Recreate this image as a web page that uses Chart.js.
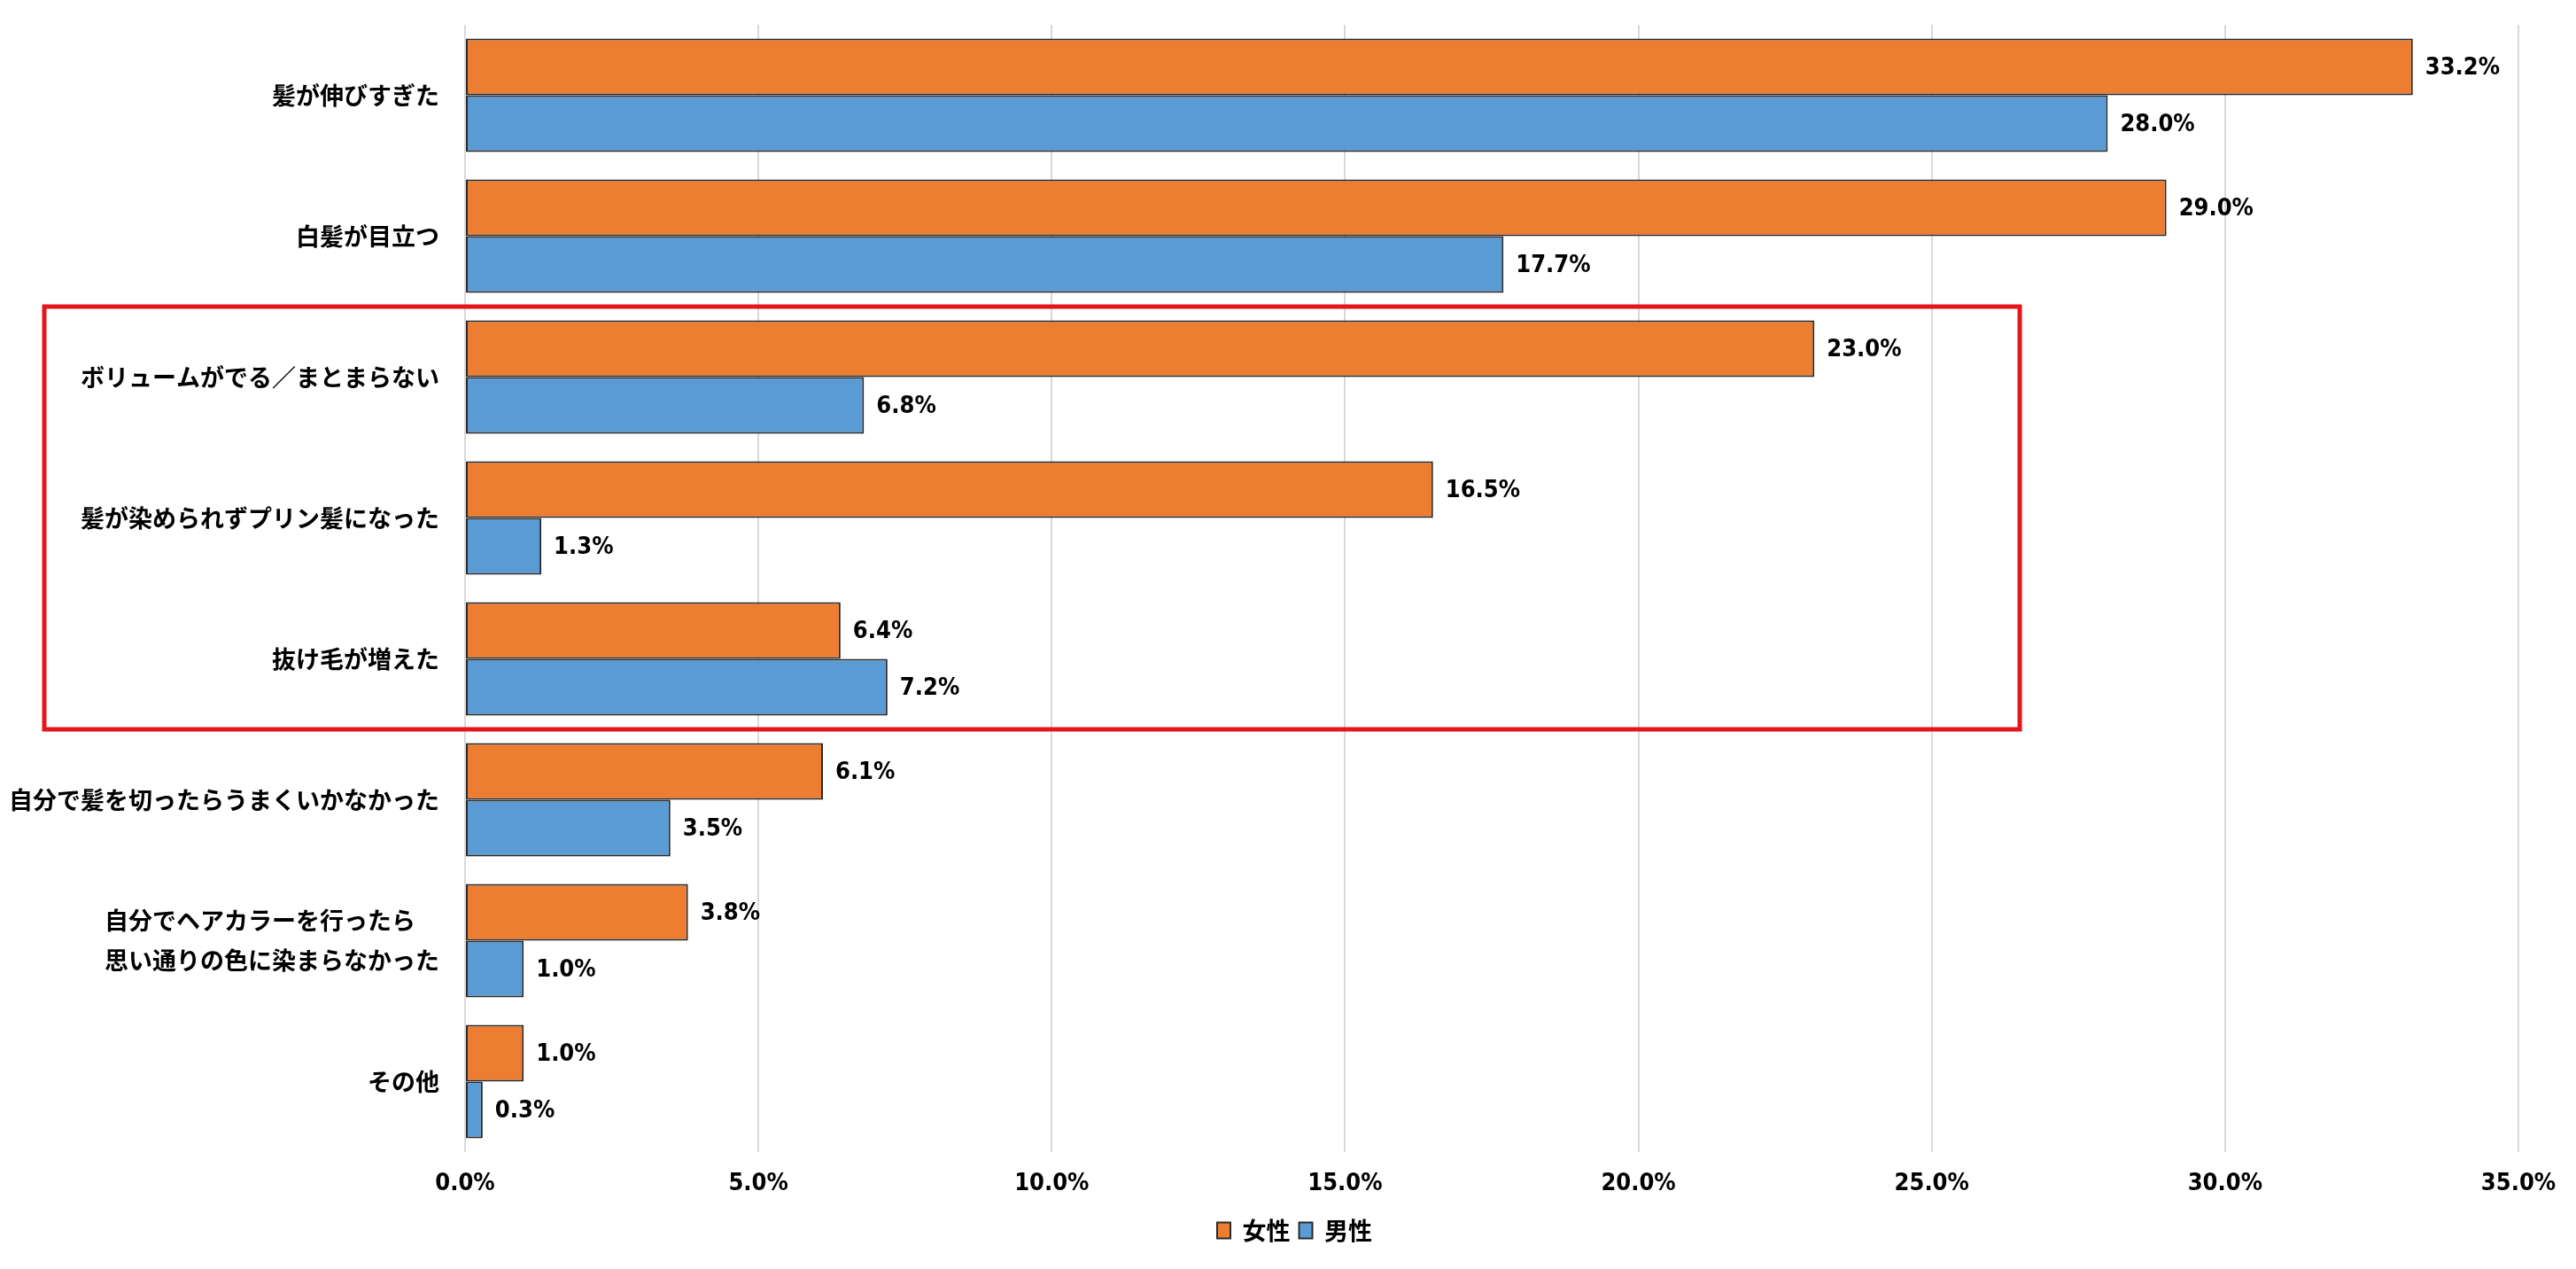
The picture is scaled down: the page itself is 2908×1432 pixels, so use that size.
<!DOCTYPE html>
<html lang="ja">
<head>
<meta charset="utf-8">
<title>髪の悩み 女性・男性</title>
<script src="https://cdn.jsdelivr.net/npm/chart.js@4.4.1/dist/chart.umd.min.js"></script>
<style>
  html, body { margin: 0; padding: 0; background: #fff; }
  #wrap { width: 2908px; height: 1432px; position: relative; }
</style>
</head>
<body>
<div id="wrap"><canvas id="chart" width="2908" height="1432"></canvas></div>
<script>
// ---- data ----
const CATEGORIES = [
  "髪が伸びすぎた",
  "白髪が目立つ",
  "ボリュームがでる／まとまらない",
  "髪が染められずプリン髪になった",
  "抜け毛が増えた",
  "自分で髪を切ったらうまくいかなかった",
  ["自分でヘアカラーを行ったら　", "思い通りの色に染まらなかった"],
  "その他",
];
const SERIES_NAMES = ["女性", "男性"];
const FEMALE = [33.2, 29.0, 23.0, 16.5, 6.4, 6.1, 3.8, 1.0];
const MALE = [28.0, 17.7, 6.8, 1.3, 7.2, 3.5, 1.0, 0.3];
const X_TICKS = [0, 5, 10, 15, 20, 25, 30, 35];

// red box around categories 2..4 (index), out to ~26.5%
const BOX_FROM = 2, BOX_TO = 4, BOX_X = 26.5;
const LEGEND_SHIFT = 40; // legend sits a bit right of centre in the original

const LATIN = "'Liberation Sans Narrow', 'DejaVu Sans Condensed', 'Noto Sans CJK JP', sans-serif";
const CJK = "'Noto Sans CJK JP', sans-serif";

const barLabels = {
  id: "barLabels",
  afterDatasetsDraw(chart) {
    const ctx = chart.ctx;
    ctx.save();
    ctx.font = "bold 27px " + LATIN;
    ctx.fillStyle = "#000";
    ctx.textAlign = "left";
    ctx.textBaseline = "middle";
    chart.data.datasets.forEach((ds, di) => {
      chart.getDatasetMeta(di).data.forEach((bar, i) => {
        ctx.fillText(ds.data[i].toFixed(1) + "%", bar.x + 14, bar.y + 1);
      });
    });
    ctx.restore();
  },
};

const redBox = {
  id: "redBox",
  afterLayout(chart) {
    chart.legend.left += LEGEND_SHIFT;
    chart.legend.right += LEGEND_SHIFT;
  },
  afterDraw(chart) {
    const y = chart.scales.y, x = chart.scales.x;
    const band = y.getPixelForValue(1) - y.getPixelForValue(0);
    const top = y.getPixelForValue(BOX_FROM) - band / 2;
    const bottom = y.getPixelForValue(BOX_TO) + band / 2;
    const right = x.getPixelForValue(BOX_X);
    const ctx = chart.ctx;
    ctx.save();
    ctx.strokeStyle = "#e5161b";
    ctx.lineWidth = 5;
    ctx.strokeRect(50, top, right - 50, bottom - top);
    ctx.restore();
  },
};

new Chart(document.getElementById("chart"), {
  type: "bar",
  data: {
    labels: CATEGORIES,
    datasets: [
      { label: SERIES_NAMES[0], data: FEMALE, backgroundColor: "#ed7d31", borderColor: "#2a2a2a", borderWidth: 2, borderSkipped: false },
      { label: SERIES_NAMES[1], data: MALE, backgroundColor: "#5b9bd5", borderColor: "#2a2a2a", borderWidth: 2, borderSkipped: false },
    ],
  },
  options: {
    indexAxis: "y",
    responsive: false,
    devicePixelRatio: 1,
    animation: false,
    layout: { padding: { top: 28, right: 65, bottom: 20, left: 0 } },
    datasets: { bar: { barPercentage: 1, categoryPercentage: 0.805 } },
    scales: {
      x: {
        min: 0, max: 35,
        afterBuildTicks: s => { s.ticks = X_TICKS.map(v => ({ value: v })); },
        afterFit: s => { s.height = 65; },
        grid: { color: "#d9d9d9", lineWidth: 2, drawTicks: false },
        border: { display: false },
        ticks: { padding: 22, color: "#000", font: { family: LATIN, size: 27, weight: "bold", lineHeight: 1 }, callback: v => v.toFixed(1) + "%" },
      },
      y: {
        afterFit: s => { s.width = 525; s.paddingTop = 0; s.paddingBottom = 0; },
        grid: { display: false },
        border: { display: false },
        ticks: { padding: 21, color: "#000", font: { family: CJK, size: 27, weight: "bold", lineHeight: 1.65 } },
      },
    },
    plugins: {
      legend: {
        position: "bottom",
        labels: { color: "#000", boxWidth: 15, boxHeight: 18, padding: 10, font: { family: CJK, size: 27, weight: "bold" } },
      },
      tooltip: { enabled: false },
    },
  },
  plugins: [barLabels, redBox],
});
</script>
</body>
</html>
